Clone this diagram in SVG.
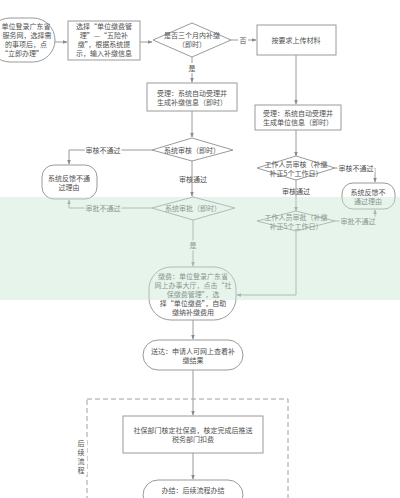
<svg xmlns="http://www.w3.org/2000/svg" width="400" height="498" viewBox="0 0 400 498">
<style>
.b{fill:#fff;stroke:#9a9a9a;stroke-width:1}
.t{font-family:"Noto Sans CJK SC","Noto Sans",sans-serif;font-size:7px;fill:#505050;text-anchor:middle;dominant-baseline:central}
.l{paint-order:stroke;stroke:#fff;stroke-width:3}
.c{fill:none;stroke:#9a9a9a;stroke-width:1}
.d{fill:none;stroke:#a0a0a0;stroke-width:1;stroke-dasharray:5,3}
</style>
<defs>
<marker id="a" viewBox="0 0 8 8" refX="7" refY="4" markerWidth="5" markerHeight="5" orient="auto">
<path d="M0,1 L8,4 L0,7 z" fill="#8a8a8a"/>
</marker>
</defs>
<rect width="400" height="498" fill="#fff"/>
<g id="connectors">
<path class="c" d="M55,42 L67,42" marker-end="url(#a)"/>
<path class="c" d="M140,42 L152,42" marker-end="url(#a)"/>
<path class="c" d="M231,40 L238,40 M248,40 L256,40" marker-end="url(#a)"/>
<path class="c" d="M192,57 L192,63 M192,73 L192,82" marker-end="url(#a)"/>
<path class="c" d="M296,55 L296,104" marker-end="url(#a)"/>
<path class="c" d="M192,111 L192,137" marker-end="url(#a)"/>
<path class="c" d="M152,150 L69,150 L69,164" marker-end="url(#a)"/>
<path class="c" d="M192,161 L192,196" marker-end="url(#a)"/>
<path class="c" d="M152,208 L69,208 L69,200" marker-end="url(#a)"/>
<path class="c" d="M193,220 L193,266" marker-end="url(#a)"/>
<path class="c" d="M296,130 L296,156" marker-end="url(#a)"/>
<path class="c" d="M335,168 L375,168 L375,182" marker-end="url(#a)"/>
<path class="c" d="M296,180 L296,211" marker-end="url(#a)"/>
<path class="c" d="M335,221 L375,221 L375,210" marker-end="url(#a)"/>
<path class="c" d="M296,230 L296,295 L237,295" marker-end="url(#a)"/>
<path class="c" d="M193,320 L193,339" marker-end="url(#a)"/>
<path class="c" d="M193,370 L193,415" marker-end="url(#a)"/>
<path class="c" d="M193,453 L193,479" marker-end="url(#a)"/>
</g>
<g id="group-followup">
<rect class="d" x="87" y="399" width="201" height="110"/>
<rect x="77" y="437" width="10" height="38" fill="#fff"/>
<text class="t" x="81" y="443">后</text>
<text class="t" x="81" y="452">续</text>
<text class="t" x="81" y="461">流</text>
<text class="t" x="81" y="470">程</text>
</g>
<g id="n1">
<rect class="b" x="-12" y="18" width="67" height="44" rx="22"/>
<text class="t" x="26" y="26">单位登录广东省</text>
<text class="t" x="27" y="35">服务网，选择需</text>
<text class="t" x="26" y="44">的事项后，点</text>
<text class="t" x="22" y="53">“立即办理”</text>
</g>
<g id="n2">
<rect class="b" x="68" y="21" width="72" height="39"/>
<text class="t" x="104" y="26">选择“单位缴费管</text>
<text class="t" x="104" y="35">理”—“五险补</text>
<text class="t" x="104" y="44">缴”，根据系统提</text>
<text class="t" x="104" y="53">示，输入补缴信息</text>
</g>
<g id="n3">
<path class="b" d="M153,40 L192,23 L231,40 L192,57 Z"/>
<text class="t" x="192" y="35">是否三个月内补缴</text>
<text class="t" x="192" y="44">（即时）</text>
</g>
<text class="t" x="243" y="40">否</text>
<text class="t" x="192" y="68">是</text>
<g id="n4">
<rect class="b" x="257" y="25" width="79" height="30"/>
<text class="t" x="296" y="40">按要求上传材料</text>
</g>
<g id="n5">
<rect class="b" x="147" y="83" width="90" height="28"/>
<text class="t" x="192" y="92.5">受理：系统自动受理并</text>
<text class="t" x="192" y="101.5">生成补缴信息（即时）</text>
</g>
<g id="n6">
<rect class="b" x="255" y="105" width="86" height="25"/>
<text class="t" x="298" y="113">受理：系统自动受理并</text>
<text class="t" x="298" y="122">生成单位信息（即时）</text>
</g>
<g id="n7">
<path class="b" d="M152,150 L192,138 L233,150 L192,161 Z"/>
<text class="t" x="192" y="150">系统审核（即时）</text>
</g>
<text class="t l" x="103" y="150">审核不通过</text>
<text class="t" x="193" y="179">审核通过</text>
<g id="n8">
<rect class="b" x="42" y="165" width="55" height="34" rx="12"/>
<text class="t" x="69" y="177.5">系统反馈不通</text>
<text class="t" x="69" y="186.5">过理由</text>
</g>
<g id="n9">
<path class="b" d="M152,208 L193,197 L235,208 L193,220 Z"/>
<text class="t" x="193" y="208">系统审批（即时）</text>
</g>
<text class="t l" x="103" y="208">审批不通过</text>
<g id="n10">
<path class="b" d="M257,168 L296,156 L335,168 L296,180 Z"/>
<text class="t" x="296" y="163.5">工作人员审核（补缴</text>
<text class="t" x="296" y="172.5">补正5个工作日）</text>
</g>
<text class="t l" x="356" y="168">审核不通过</text>
<text class="t" x="296" y="191">审核通过</text>
<g id="n11">
<rect class="b" x="342" y="183" width="53" height="26" rx="11"/>
<text class="t" x="368" y="191.5">系统反馈不</text>
<text class="t" x="368" y="200.5">通过理由</text>
</g>
<g id="n12">
<path class="b" d="M257,221 L296,211 L335,221 L296,231 Z"/>
<text class="t" x="296" y="216.5">工作人员审批（补缴</text>
<text class="t" x="296" y="225.5">补正5个工作日）</text>
</g>
<text class="t l" x="358" y="221">审批不通过</text>
<text class="t l" x="193" y="245">是</text>
<g id="n13">
<rect class="b" x="149" y="267" width="87" height="53" rx="22"/>
<text class="t" x="193" y="276">缴费：单位登录广东省</text>
<text class="t" x="193" y="285">网上办事大厅，点击“社</text>
<text class="t" x="193" y="294">保缴费管理”，选</text>
<text class="t" x="193" y="303">择“单位缴费”，自助</text>
<text class="t" x="193" y="312">缴纳补缴费用</text>
</g>
<g id="n14">
<rect class="b" x="143" y="340" width="100" height="30" rx="15"/>
<text class="t" x="193" y="350.5">送达：申请人可网上查看补</text>
<text class="t" x="193" y="359.5">缴结果</text>
</g>
<g id="n15">
<rect class="b" x="123" y="416" width="140" height="37"/>
<text class="t" x="193" y="430">社保部门核定社保费，核定完成后推送</text>
<text class="t" x="193" y="439">税务部门扣费</text>
</g>
<g id="n16">
<rect class="b" x="143" y="480" width="100" height="30" rx="15"/>
<text class="t" x="193" y="490">办结：后续流程办结</text>
</g>
<rect x="0" y="197" width="400" height="103" fill="#c9e7d5" opacity="0.45"/>
</svg>
